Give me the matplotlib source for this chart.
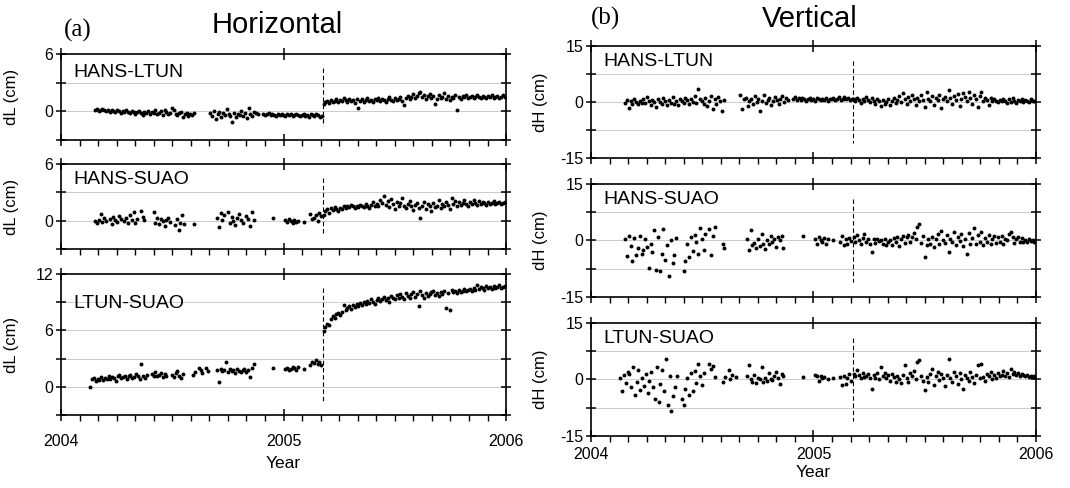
import numpy as np
import matplotlib
import matplotlib.pyplot as plt

matplotlib.use('Agg')
plt.rcParams['font.family'] = ['Liberation Sans', 'DejaVu Sans']

# sampling step (days) and earthquake epoch
STEP = 3
EVENT = 2005.177

# each series: list of (start day counted from 2004-01-01, values every STEP days); None = no solution
hl_dl = [
    (56, [0.1, 0.2, 0.0, 0.1, 0.2, 0.1, 0.0, 0.1, -0.1, 0.1, 0.0, -0.1, 0.1, 0.0, -0.2, 0.0, -0.1, 0.1, -0.1, -0.2,
          0.0, -0.1, -0.3, -0.1, 0.0, -0.2, -0.4, -0.1, -0.2, 0.0, -0.3, -0.1, -0.2, 0.1, -0.3, -0.2, 0.0, -0.4, 0.1, -0.1,
          -0.3, -0.2, 0.4, 0.1, -0.3, -0.4, -0.2, -0.1, -0.6, -0.3, -0.2, -0.5, -0.3, -0.4, -0.2]),
    (245, [-0.2, -0.5, 0.0, -0.8, -0.3, -0.1, -0.6, -0.2, -0.4, 0.2, -0.3, -0.5, -1.1, -0.2, -0.6, -0.3, -0.4, 0.0,
           -0.5, -0.2, -0.7, 0.4, -0.3, -0.5, -0.1, -0.2, -0.3]),
    (332, [-0.3, -0.4, -0.3, -0.2, -0.4, -0.3, -0.4, -0.5, -0.3, -0.4, -0.3, -0.4, -0.5, -0.3, -0.4, -0.3, -0.5, -0.4,
           -0.3, -0.4, -0.5, -0.4, -0.3, -0.5, -0.4, -0.6, -0.3, -0.4, -0.5, -0.3, -0.4, -0.6, -0.5]),
    (431, [0.8, 1.0, 1.1, 0.9, 1.2, 1.0, 1.1, 1.3, 1.0, 1.2, 1.1, 1.4, 1.2, 1.0, 1.3, 1.1, 1.2, 0.9, 1.3, 0.4,
           1.1, 1.3, 1.0, 1.2, 1.4, 1.1, 1.2, 1.0, 1.3, 1.2, 1.4, 1.1, 1.3, 1.2, 1.0, 1.3, 1.5, 1.2, 1.1, 1.4,
           1.2, 1.3, 1.5, 1.1, 0.7, 1.4, 1.6, 1.3, 1.5, 1.8, 1.4, 1.6, 1.9, 2.0, 1.5, 1.7, 1.3, 1.6, 1.8, 1.4,
           1.6, 0.8, 1.3, 1.7, 1.4, 1.5, 1.9, 1.3, 1.6, 1.2, 1.5, 1.4, 1.7, 0.1, 1.5, 1.3, 1.6, 1.5, 1.7, 1.4,
           1.5, 1.6, 1.4, 1.5, 1.7, 1.5, 1.4, 1.6, 1.5, 1.4, 1.6, 1.5, 1.7, 1.4, 1.5, 1.6, 1.4, 1.5, 1.7, 1.5]),
]

hs_dl = [
    (56, [0.0, -0.2, 0.1, 0.7, -0.1, 0.3, 0.0, None, 0.2, -0.4, 0.4, 0.1, -0.1, 0.5, 0.2, None, 0.0, 0.3, -0.2, 0.6,
          0.1, 0.9, -0.3, 0.2, None, 1.0, 0.4, 0.1]),
    (152, [0.9, -0.2, 0.3, -0.4, 0.2, 0.0, -0.6, 0.1, 0.3, -0.1]),
    (187, [-0.5, 0.2, -1.0, -0.3, 0.6, -0.4]),
    (219, [-0.4]),
    (256, [0.3, -0.7, 0.8, 0.1, 0.6, None, 0.9, -0.2, 0.4, 0.0, -0.5, 0.3, 0.7, 0.1, -0.3, None, 0.5, 0.2, -0.6, 0.9, 0.1]),
    (348, [0.3]),
    (368, [0.1, -0.1, 0.2, 0.0, -0.2, 0.1, -0.1, 0.0]),
    (398, [-0.1]),
    (409, [0.7, 0.2, 0.3, 0.6, 0.0, 0.8, 0.5]),
    (431, [0.6, 1.0, 1.2, 0.8, 1.3, 1.1, 1.4, 1.2, 1.0, 1.3, 1.2, 1.5, 1.3, 1.6, 1.4, 1.7, 1.5, 1.3, 1.6, 1.4,
           1.7, 1.5, 1.4, 1.8, 1.6, 1.3, 1.7, 2.0, 1.5, 1.8, 1.6, 2.2, 1.9, 2.6, 1.7, 2.1, 1.4, 2.3, 1.8, 1.2,
           2.0, 1.5, 1.9, 2.4, 1.6, 1.3, 1.8, 2.1, 1.5, 1.1, 1.7, 1.9, 1.3, 0.3, 1.6, 2.0, 1.2, 1.8, 1.5, 1.0,
           1.9, 1.4, 1.6, 2.2, 1.3, 1.8, 1.5, 2.0, 1.7, 1.2, 2.4, 1.8, 2.1, 1.6, 2.0, 1.7, 1.9, 2.2, 1.8, 1.6,
           2.0, 1.8, 2.2, 1.9, 1.7, 2.1, 1.8, 2.0, 1.9, 1.7, 2.0, 1.8, 1.9, 2.1, 1.8, 1.9, 2.0, 1.8, 1.9, 2.0]),
]

ls_dl = [
    (48, [0.0, 0.8, 0.9, 0.6, 0.8, 0.7, 1.0, 0.7, 0.9, 0.8, 1.2, 0.8, 1.0, 0.9, 0.6, 1.1, 1.3, 0.9, 1.0, 1.2,
          0.8, 1.1, 1.3, 0.9, 1.0, 1.4, 1.1, 0.8, 2.4, 1.2, 0.9, 1.3]),
    (149, [1.4, 1.2, 1.6, 1.1, 1.3, 1.5, 1.0, 1.4, 1.2, None, None, 1.3, 1.0, 1.5, 1.7, 1.2, 0.9, 1.4]),
    (217, [1.3, 1.6, None, 2.0, 1.8, 1.5, None, 2.0, 1.7]),
    (256, [1.8, 0.5, 1.9, 1.7, 1.8, 2.6, 1.6, 1.9, 1.7, 1.8, 1.5, 1.9, 1.7, 1.6, 1.8, 1.9, 1.6, 1.8, 1.0, 2.0, 2.4]),
    (348, [2.0]),
    (368, [1.9, 2.0, 1.8, 1.9, 2.1, 2.0, 1.8, 2.1]),
    (398, [1.9]),
    (409, [2.3, 2.6, 2.5, 2.8, 2.4, 2.6, 2.3]),
    (431, [5.9, 6.4, 6.7, 6.6, 7.2, 7.5, 7.3, 7.7, 7.8, 7.6, 8.0, 8.7, 8.2, 8.4, 8.6, 8.3, 8.7, 8.5, 8.8, 8.6,
           8.9, 8.7, 9.0, 8.8, 9.1, 8.9, 9.3, 9.0, 8.8, 9.2, 9.4, 9.1, 9.3, 9.6, 9.2, 9.5, 9.0, 9.7, 9.4, 9.3,
           9.8, 9.5, 9.9, 9.6, 9.3, 10.0, 9.7, 9.5, 9.9, 10.1, 9.6, 9.9, 8.6, 10.2, 9.8, 9.5, 10.0, 9.7, 9.9, 10.1,
           10.2, 9.8, 10.0, 9.7, 10.1, 9.9, 10.2, 8.4, 10.0, 8.2, 10.3, 10.1, 10.2, 10.0, 10.3, 10.1, 10.2, 10.4, 10.2, 10.3,
           10.4, 10.2, 10.5, 10.3, 10.8, 10.4, 10.6, 10.5, 10.3, 10.7, 10.5, 10.6, 10.4, 10.7, 10.5, 10.6, 10.8, 10.5, 10.6, 10.7]),
]

hl_dh = [
    (56, [-0.2, 0.5, -1.6, 0.3, -0.4, 0.8, 0.1, -0.6, 0.4, -0.2, 0.9, -0.3, 1.3, 0.2, -0.8, 0.6, -0.1, -1.4, 0.7, 0.0,
          -0.5, 1.1, 0.3, -0.7, 0.5, -0.2, 1.4, -0.4, 0.2, -0.9, 0.8, 0.4, -0.3, 1.2, 0.6, -0.6, 0.9, 0.1, 1.5, -0.2,
          3.5, 0.7, 0.3, -0.5, 1.0, -1.1, 0.4, 1.6, -2.0, 0.8, -0.4, 1.3, 0.2, -2.5, 0.5]),
    (245, [1.8, -2.0, 0.9, 1.2, -1.0, 0.3, 0.7, -0.6, 1.5, 0.0, 0.9, -2.5, 0.4, 1.8, -0.3, 0.6, 1.1, -0.8, 0.2, 1.4,
           0.5, -0.4, 0.8, 1.6, 0.1, 1.0, 0.6]),
    (332, [0.8, 1.4, 0.6, 1.0, 0.5, 1.2, 0.7, 0.4, 0.9, 1.1, 0.6, 0.8, 0.3, 1.0, 0.7, 0.5, 0.9, 0.6, 1.2, 0.4,
           0.8, 0.7, 1.0, 0.5, 0.9, 1.3, 0.6, 0.8, 1.4, 0.7, 1.0, 0.5, 0.9]),
    (431, [0.8, 0.2, 1.1, 0.5, -0.3, 0.9, 0.3, 1.4, 0.6, 0.0, 1.0, 0.4, -0.6, 0.7, 0.2, -1.2, 0.5, -0.4, 0.1, 0.8,
           -0.8, 0.3, 1.2, -0.2, 0.6, 1.5, 0.1, 2.3, 0.9, -0.5, 1.3, 0.4, 2.0, 0.7, -0.9, 1.1, 0.2, 1.8, 0.6, -1.3,
           2.6, 0.9, 0.3, 1.6, -0.7, 1.2, 0.5, 2.0, -1.5, 0.8, 1.4, 0.2, 3.3, 1.0, -0.4, 1.7, 0.6, 2.2, -1.1, 0.9,
           2.5, 1.3, 0.4, 2.8, 1.1, -0.6, 1.9, 0.7, -1.4, 1.5, 2.7, 0.3, 1.2, 0.6, -0.8, 1.0, 0.2, 0.8, 0.4, 0.0,
           0.6, 0.2, 0.9, 0.3, -0.2, 0.7, 0.1, 1.1, 0.4, -0.3, 0.5, 0.2, 0.8, 0.0, 0.6, 0.3, -0.1, 0.7, 0.2, 0.4]),
]

hs_dh = [
    (56, [0.3, -4.2, 1.2, -1.5, -5.5, 0.6, -3.8, -2.0, 1.1, -3.5, -2.5, 0.4, -1.6, -7.3, -0.8, -3.0, 2.8, -7.8, 0.9, -8.0,
          -3.5, 3.0, -5.2, -1.2, -9.5, 0.1, -6.0, -3.8, 0.6]),
    (152, [-8.2, -5.5, -1.0, -4.3, 0.8, -2.8, 1.5, -0.5, -3.6, 3.3, 0.4, -2.6, 1.8, None, 3.0, -3.8, 1.2, 3.5]),
    (216, [-0.8, -2.0]),
    (256, [0.4, -2.5, 2.8, -1.2, -0.6, -2.0, 0.5, -1.5, 1.8, -0.8, -2.3, 0.2, -1.0, 1.3, -0.3, 0.5, -1.8, 0.9, 0.2, 1.2, -2.0]),
    (348, [1.3]),
    (368, [0.5, -0.8, 1.0, 0.2, -0.3, 0.6, -1.0, 0.4, None, None, 0.2]),
    (409, [-0.5, 1.2, -1.2, 0.3, -0.9, 0.6, -0.2]),
    (431, [0.8, -0.5, 1.5, 0.2, -1.0, 0.6, 1.8, -0.3, 0.4, -0.8, -3.0, 0.3, -0.6, 0.5, -0.2, 0.1, -0.9, 0.4, -1.3, -0.4,
           0.2, -1.1, 0.6, -0.5, 0.9, -1.4, 0.3, 1.2, -0.7, 0.8, 1.5, -0.3, 0.9, 2.0, 0.4, 3.7, 4.5, -0.6, 1.1, -4.4,
           -1.2, 0.5, -0.8, 1.0, -1.8, 0.3, 1.6, -1.0, 2.5, 0.2, -0.6, 1.4, -3.0, 0.5, -0.4, 2.2, -1.2, 0.8, -0.2, 1.7,
           -1.5, 0.4, -3.7, 1.9, -0.8, 0.6, 3.2, -1.0, 1.4, -0.5, 2.2, -1.2, 0.7, -0.3, 1.5, -0.9, 0.3, 1.1, -0.6, 0.8,
           -0.4, 1.3, -0.8, 0.5, 0.1, 1.6, 2.3, 0.9, -0.6, 0.4, 1.0, -0.3, 0.6, -0.5, 0.2, -0.4, 0.5, -0.2, 0.1, -0.3]),
]

ls_dh = [
    (48, [0.3, -3.0, 1.2, -1.0, 2.0, 1.5, -2.0, 3.2, -4.2, -0.8, 2.5, -2.8, 0.5, -1.8, 1.4, -3.5, -0.5, 2.0, -2.0, -5.2,
          3.2, -6.0, -1.2, 2.5, -3.0, 5.5, -6.8, 1.0, -8.5, -4.5, -2.0, 0.8]),
    (149, [-5.2, -6.8, -2.5, 0.5, -4.0, 1.6, -3.0, 2.2, -1.0, 4.0, 0.9, -1.6, 1.8, None, None, 4.2, 2.8, 3.6, 0.7]),
    (217, [-0.8, 0.6, None, 2.5, 0.2, 1.3, None, 0.7]),
    (256, [1.0, 3.9, 0.2, -0.6, 1.2, -1.0, 0.4, 0.0, 3.3, -0.8, 0.5, -0.4, 1.6, 0.2, -0.2, 1.0, 2.0, 0.5, -1.2, 1.5, 0.8]),
    (348, [0.7]),
    (368, [1.3, 0.8, -0.5, 1.0, 0.3, 0.6, None, 0.2, None, None, 0.5]),
    (409, [0.6, -1.5, 1.0, -1.2, 0.3, 1.5, -0.3]),
    (431, [1.5, 0.8, 2.6, 1.2, 0.3, 1.8, 0.6, 1.0, 1.4, 0.5, -2.6, 1.1, 0.4, 1.6, 0.2, 3.4, 0.9, 1.8, 0.3, 1.2,
           -0.5, 1.5, 0.6, -0.8, 1.0, 0.1, -1.0, 1.3, 3.8, 0.4, -0.6, 1.7, 0.8, 2.2, 0.0, 4.6, 5.2, 1.0, -0.4, -2.9,
           0.6, -0.8, 1.4, 2.8, -1.5, 0.9, 2.0, -0.2, 1.5, 0.3, -1.8, 1.2, 5.5, 0.5, -0.6, 2.1, 0.8, -1.2, 1.6, 0.2,
           -2.6, 1.3, 0.4, -0.4, 1.9, 0.7, -0.9, 1.1, 3.8, 0.3, 4.0, 0.6, -0.5, 1.4, 0.9, 2.0, 0.2, 1.2, 0.5, 1.7,
           0.8, 1.3, 2.2, 1.0, 1.6, 0.7, 2.7, 1.4, 2.0, 1.1, 1.8, 0.9, 1.5, 1.2, 0.8, 1.3, 0.7, 1.0, 0.6, 0.9]),
]

baselines = ['HANS-LTUN', 'HANS-SUAO', 'LTUN-SUAO']
year_ticks = [2004, 2005, 2006]


def expand(segs):
    t, v = [], []
    for start, vals in segs:
        for i, y in enumerate(vals):
            if y is None:
                continue
            t.append(2004 + (start + STEP * i) / 365.25)
            v.append(y)
    return np.array(t), np.array(v)


def style(ax, name, ylim, grid, labels, ylab, dash, bottom, xpad, name_y):
    ax.set_xlim(2004, 2006)
    ax.set_ylim(*ylim)
    for g in grid:
        ax.axhline(g, color='#cccccc', lw=0.7, zorder=0)
    ticks = [ylim[0]] + grid + [ylim[1]]
    ax.set_yticks(ticks)
    ax.set_yticklabels([str(g) if g in labels else '' for g in ticks])
    ax.set_xticks(year_ticks)
    ax.set_xticks([2004 + m / 12 for m in range(25)], minor=True)
    ax.tick_params(axis='y', direction='inout', length=7, width=1.1, right=True, labelsize=11.5, pad=2)
    ax.tick_params(axis='x', which='major', direction='inout', length=8, width=1.1, top=True,
                   labelsize=11.5, pad=xpad)
    ax.tick_params(axis='x', which='minor', direction='out', length=4, width=1.0, top=False)
    if bottom:
        ax.set_xticklabels([str(y) for y in year_ticks])
    else:
        ax.set_xticklabels([])
    for sp in ax.spines.values():
        sp.set_linewidth(1.2)
    ax.vlines(EVENT, dash[0], dash[1], colors='black', linestyles=(0, (4, 2.5)), lw=0.8)
    ax.text(0.027, name_y, name, transform=ax.transAxes, fontsize=14, ha='left', va='center')
    ax.set_ylabel(ylab, fontsize=12)


fig = plt.figure(figsize=(10.7, 4.88), dpi=100)

left_pos = [[0.057, 0.7131, 0.416, 0.1762], [0.057, 0.4898, 0.416, 0.1742], [0.057, 0.1496, 0.416, 0.2889]]
right_pos = [[0.5523, 0.6762, 0.4159, 0.2295], [0.5523, 0.3914, 0.4159, 0.2316], [0.5523, 0.1066, 0.4159, 0.2316]]

left_data = [hl_dl, hs_dl, ls_dl]
right_data = [hl_dh, hs_dh, ls_dh]
left_lims = [(-3, 6), (-3, 6), (-3, 12)]
left_grid = [[0, 3], [0, 3], [0, 3, 6, 9]]
left_labels = [[0, 6], [0, 6], [0, 6, 12]]
left_dash = [(4.5, -1.5), (4.5, -1.5), (10.5, -1.5)]
left_name_y = [0.78, 0.82, 0.79]

for k in range(3):
    ax = fig.add_axes(left_pos[k])
    t, v = expand(left_data[k])
    ax.scatter(t, v, s=8, c='black', linewidths=0, zorder=3)
    style(ax, baselines[k], left_lims[k], left_grid[k], left_labels[k], 'dL (cm)', left_dash[k], k == 2, 10,
          left_name_y[k])
    ax.yaxis.set_label_coords(-0.095, 0.5)
    if k == 2:
        ax.set_xlabel('Year', fontsize=12.5, labelpad=5)

for k in range(3):
    ax = fig.add_axes(right_pos[k])
    t, v = expand(right_data[k])
    ax.scatter(t, v, s=8, c='black', linewidths=0, zorder=3)
    style(ax, baselines[k], (-15, 15), [-7.5, 0, 7.5], [-15, 0, 15], 'dH (cm)', (11, -11), k == 2, 4, 0.86)
    ax.yaxis.set_label_coords(-0.097, 0.5)
    if k == 2:
        ax.set_xlabel('Year', fontsize=12.5, labelpad=2)

# panel letters and column titles
fig.text(0.060, 0.937, '(a)', fontsize=18, family='Liberation Serif', ha='left', va='center')
fig.text(0.259, 0.948, 'Horizontal', fontsize=21, ha='center', va='center')
fig.text(0.552, 0.963, '(b)', fontsize=18, family='Liberation Serif', ha='left', va='center')
fig.text(0.757, 0.962, 'Vertical', fontsize=21, ha='center', va='center')

fig.savefig('out.png', dpi=100)
